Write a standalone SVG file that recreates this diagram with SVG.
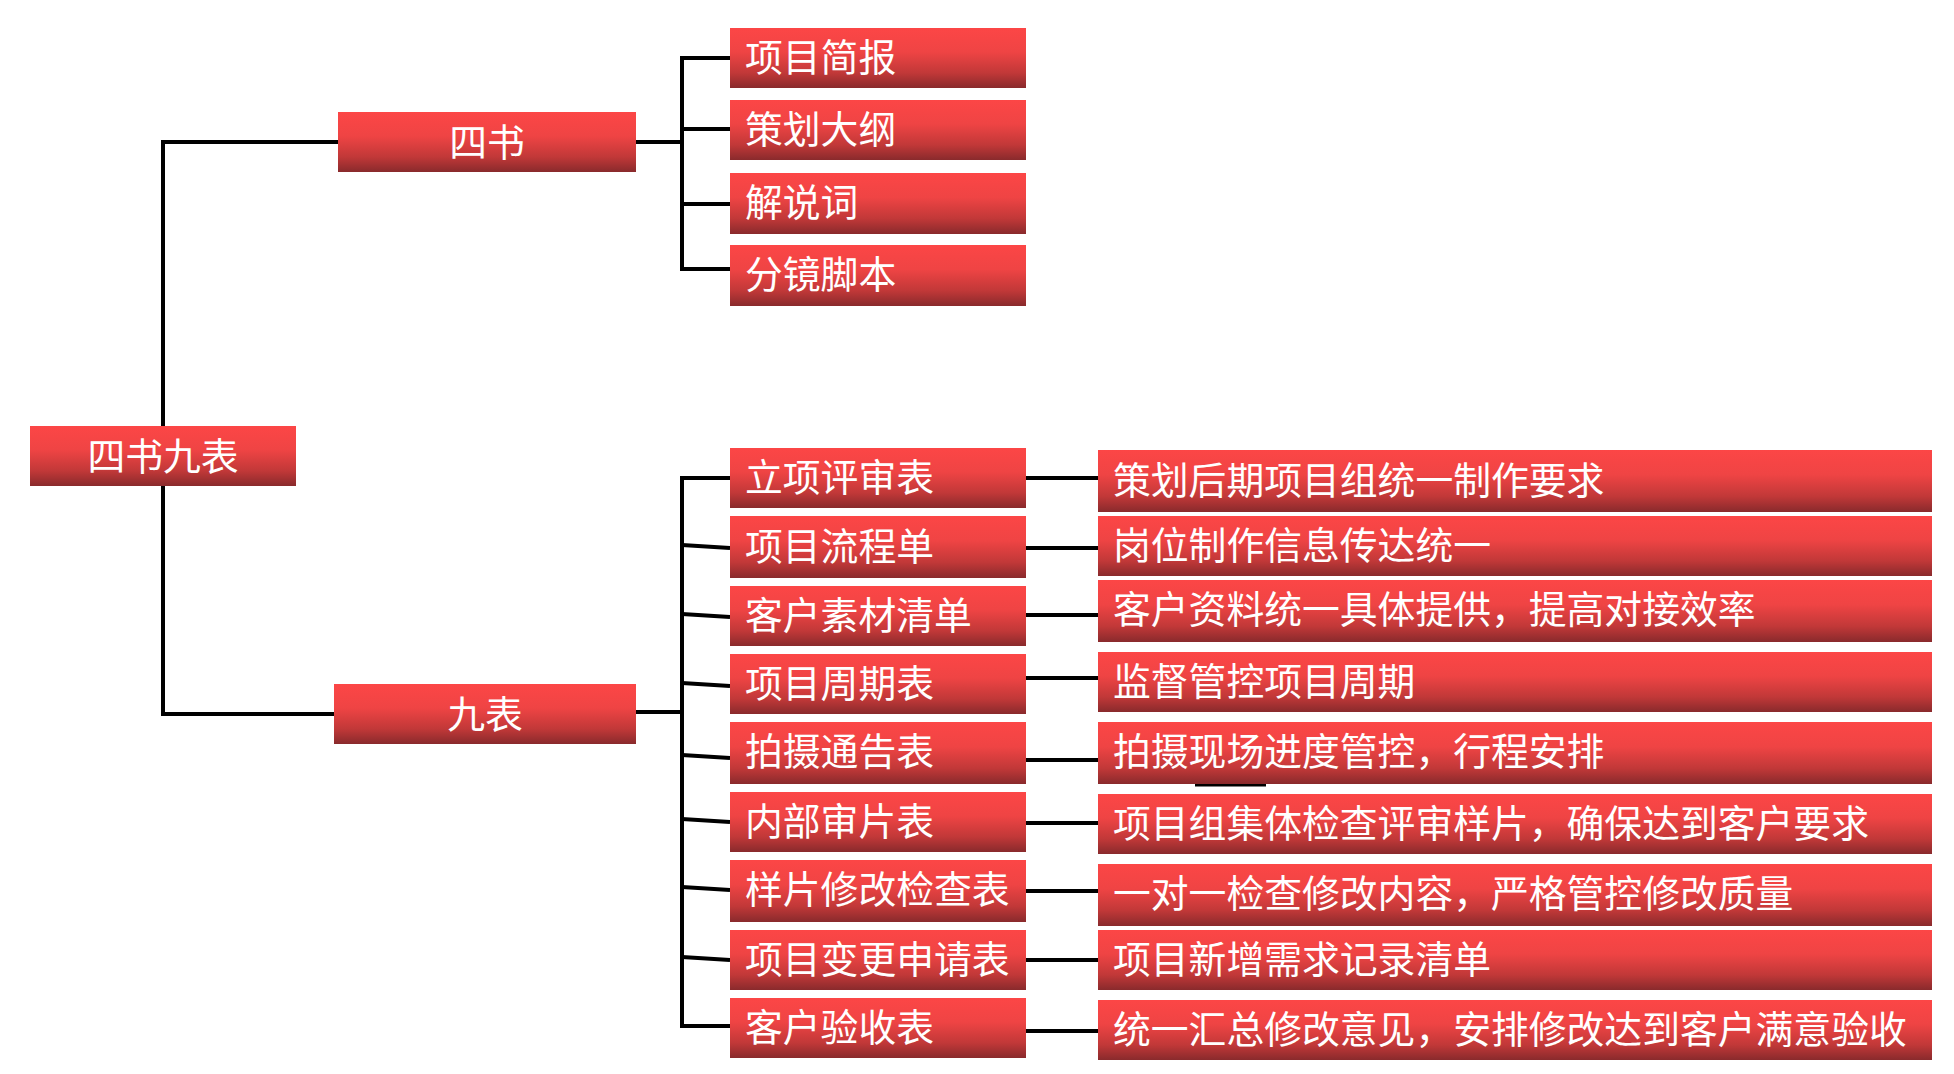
<svg xmlns="http://www.w3.org/2000/svg" width="1954" height="1074" viewBox="0 0 1954 1074">
<defs>
<linearGradient id="g" x1="0" y1="0" x2="0" y2="1">
<stop offset="0" stop-color="#fc4646"/>
<stop offset="0.4" stop-color="#ef4444"/>
<stop offset="0.75" stop-color="#c13838"/>
<stop offset="1" stop-color="#892a2c"/>
</linearGradient>
</defs>
<style>
.b{fill:url(#g)}
.t{fill:#fff;font-family:"Noto Sans CJK SC","Noto Sans",sans-serif;font-size:37.8px}
.c{text-anchor:middle}
.l{fill:none;stroke:#000;stroke-width:4}
</style>
<rect width="1954" height="1074" fill="#fff"/>
<g id="connectors">
<polyline class="l" points="338,142 163,142 163,426"/>
<polyline class="l" points="163,486 163,714 334,714"/>
<polyline class="l" points="636,142 682,142"/>
<polyline class="l" points="730,58 682,58 682,269 730,269"/>
<line class="l" x1="682" y1="129" x2="730" y2="129"/>
<line class="l" x1="682" y1="204" x2="730" y2="204"/>
<polyline class="l" points="636,712 682,712"/>
<polyline class="l" points="730,478 682,478 682,1026 730,1026"/>
<line class="l" x1="682" y1="545" x2="730" y2="548"/>
<line class="l" x1="682" y1="614" x2="730" y2="617"/>
<line class="l" x1="682" y1="683" x2="730" y2="686"/>
<line class="l" x1="682" y1="755" x2="730" y2="758"/>
<line class="l" x1="682" y1="819" x2="730" y2="822"/>
<line class="l" x1="682" y1="887" x2="730" y2="890"/>
<line class="l" x1="682" y1="957" x2="730" y2="960"/>
<line class="l" x1="1026" y1="478" x2="1098" y2="478"/>
<line class="l" x1="1026" y1="548" x2="1098" y2="548"/>
<line class="l" x1="1026" y1="615" x2="1098" y2="615"/>
<line class="l" x1="1026" y1="678" x2="1098" y2="678"/>
<line class="l" x1="1026" y1="760" x2="1098" y2="760"/>
<line class="l" x1="1026" y1="823" x2="1098" y2="823"/>
<line class="l" x1="1026" y1="891" x2="1098" y2="891"/>
<line class="l" x1="1026" y1="960" x2="1098" y2="960"/>
<line class="l" x1="1026" y1="1031" x2="1098" y2="1031"/>
<line class="l" x1="1195" y1="784.5" x2="1266" y2="784.5"/>
</g>
<g id="root"><rect class="b" x="30" y="426" width="266" height="60"/><text class="t c" x="163" y="470">四书九表</text></g>
<g id="sishu"><rect class="b" x="338" y="112" width="298" height="60"/><text class="t c" x="487" y="156">四书</text></g>
<g id="jiubiao"><rect class="b" x="334" y="684" width="302" height="60"/><text class="t c" x="485" y="728">九表</text></g>
<g id="s1"><rect class="b" x="730" y="28" width="296" height="60"/><text class="t" x="745" y="71">项目简报</text></g>
<g id="s2"><rect class="b" x="730" y="100" width="296" height="60"/><text class="t" x="745" y="143">策划大纲</text></g>
<g id="s3"><rect class="b" x="730" y="173" width="296" height="61"/><text class="t" x="745" y="216">解说词</text></g>
<g id="s4"><rect class="b" x="730" y="245" width="296" height="61"/><text class="t" x="745" y="288">分镜脚本</text></g>
<g id="j1"><rect class="b" x="730" y="448" width="296" height="60"/><text class="t" x="745" y="491">立项评审表</text></g>
<g id="j2"><rect class="b" x="730" y="516" width="296" height="62"/><text class="t" x="745" y="560">项目流程单</text></g>
<g id="j3"><rect class="b" x="730" y="586" width="296" height="60"/><text class="t" x="745" y="629">客户素材清单</text></g>
<g id="j4"><rect class="b" x="730" y="654" width="296" height="60"/><text class="t" x="745" y="697">项目周期表</text></g>
<g id="j5"><rect class="b" x="730" y="722" width="296" height="62"/><text class="t" x="745" y="765">拍摄通告表</text></g>
<g id="j6"><rect class="b" x="730" y="792" width="296" height="60"/><text class="t" x="745" y="835">内部审片表</text></g>
<g id="j7"><rect class="b" x="730" y="860" width="296" height="62"/><text class="t" x="745" y="903">样片修改检查表</text></g>
<g id="j8"><rect class="b" x="730" y="930" width="296" height="60"/><text class="t" x="745" y="973">项目变更申请表</text></g>
<g id="j9"><rect class="b" x="730" y="998" width="296" height="60"/><text class="t" x="745" y="1041">客户验收表</text></g>
<g id="r1"><rect class="b" x="1098" y="450" width="834" height="62"/><text class="t" x="1113" y="494">策划后期项目组统一制作要求</text></g>
<g id="r2"><rect class="b" x="1098" y="516" width="834" height="60"/><text class="t" x="1113" y="559">岗位制作信息传达统一</text></g>
<g id="r3"><rect class="b" x="1098" y="580" width="834" height="62"/><text class="t" x="1113" y="623">客户资料统一具体提供，提高对接效率</text></g>
<g id="r4"><rect class="b" x="1098" y="652" width="834" height="60"/><text class="t" x="1113" y="695">监督管控项目周期</text></g>
<g id="r5"><rect class="b" x="1098" y="722" width="834" height="62"/><text class="t" x="1113" y="765">拍摄现场进度管控，行程安排</text></g>
<g id="r6"><rect class="b" x="1098" y="794" width="834" height="60"/><text class="t" x="1113" y="837">项目组集体检查评审样片，确保达到客户要求</text></g>
<g id="r7"><rect class="b" x="1098" y="864" width="834" height="62"/><text class="t" x="1113" y="907">一对一检查修改内容，严格管控修改质量</text></g>
<g id="r8"><rect class="b" x="1098" y="930" width="834" height="60"/><text class="t" x="1113" y="973">项目新增需求记录清单</text></g>
<g id="r9"><rect class="b" x="1098" y="1000" width="834" height="60"/><text class="t" x="1113" y="1043">统一汇总修改意见，安排修改达到客户满意验收</text></g>
</svg>
